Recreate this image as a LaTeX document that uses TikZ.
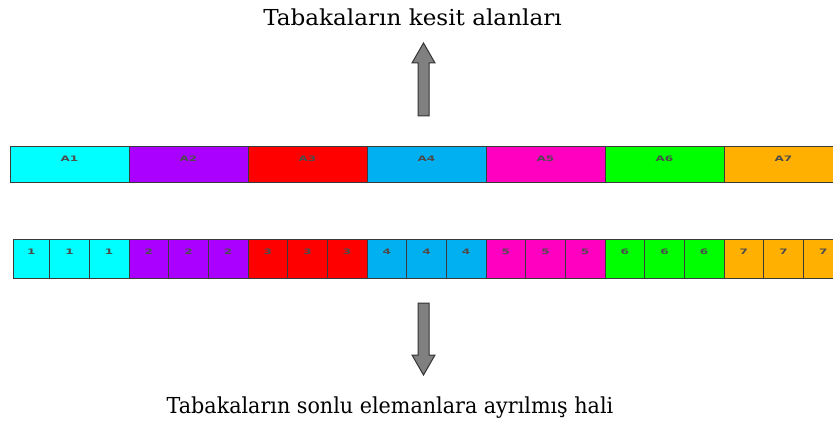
\documentclass[tikz,border=0pt]{standalone}
\usepackage{fontspec}
\setmainfont{DejaVu Serif}
\newfontfamily\cellfont{DejaVu Sans}
\usetikzlibrary{calc}
\definecolor{cA1}{HTML}{00FFFF}
\definecolor{cA2}{HTML}{AA00FF}
\definecolor{cA3}{HTML}{FF0000}
\definecolor{cA4}{HTML}{00B0F0}
\definecolor{cA5}{HTML}{FF00C0}
\definecolor{cA6}{HTML}{00FF00}
\definecolor{cA7}{HTML}{FFB000}
\definecolor{segline}{HTML}{3A3A3A}
\definecolor{arrowfill}{HTML}{808080}
\newcommand{\celltext}[1]{\scalebox{1.6}[1]{#1}}
\begin{document}
\begin{tikzpicture}[x=1pt,y=-1pt,
  seg/.style={draw=segline, line width=0.8pt, inner sep=0pt, outer sep=0pt,
    anchor=north west, minimum height=36pt, minimum width=119pt},
  cell/.style={draw=segline, line width=0.8pt, inner sep=0pt, outer sep=0pt,
    anchor=north west, minimum height=39pt, minimum width=39.667pt},
  segtext/.style={font=\cellfont\bfseries\fontsize{7.5}{8}\selectfont, text=black!70, inner sep=0pt},
  title/.style={font=\fontsize{22}{24}\selectfont, inner sep=0pt, anchor=base},
  blockarrow/.style={fill=arrowfill, draw=black!80, line width=1pt, line join=miter}]
\useasboundingbox (0,0) rectangle (833,425);
\clip (0,0) rectangle (833,425);

% layer cross-sections
\foreach \i in {1,...,7} {
  \node[seg, fill=cA\i] (A\i) at ({10+119*(\i-1)},146) {};
  \node[segtext] (tA\i) at ($(A\i.north)+(0,13)$) {\celltext{A\i}};
}

% finite elements, three per layer
\foreach \i in {1,...,7} {
  \foreach \j in {1,2,3} {
    \pgfmathtruncatemacro{\n}{3*(\i-1)+\j}
    \ifnum\n=1
      \node[cell, fill=cA\i, minimum width=36.667pt] (c\n) at (13,239) {};
    \else
      \node[cell, fill=cA\i] (c\n) at ({10+119*(\i-1)+39.667*(\j-1)},239) {};
    \fi
    \node[segtext] (tc\n) at ($(c\n.north)+(0,13)$) {\celltext{\i}};
  }
}

% block arrows
\draw[blockarrow] (418,116) -- (418,63) -- (412,63) -- (423.5,43) -- (435,63) -- (429,63) -- (429,116) -- cycle;
\draw[blockarrow] (418,303) -- (418,355) -- (412,355) -- (423.5,375) -- (435,355) -- (429,355) -- (429,303) -- cycle;

% captions
\node[title] (top) at (412.5,26) {\scalebox{1.05}[1]{Tabakaların kesit alanları}};
\node[title] (bottom) at (390,413) {\scalebox{0.94}[1]{Tabakaların sonlu elemanlara ayrılmış hali}};
\end{tikzpicture}
\end{document}
